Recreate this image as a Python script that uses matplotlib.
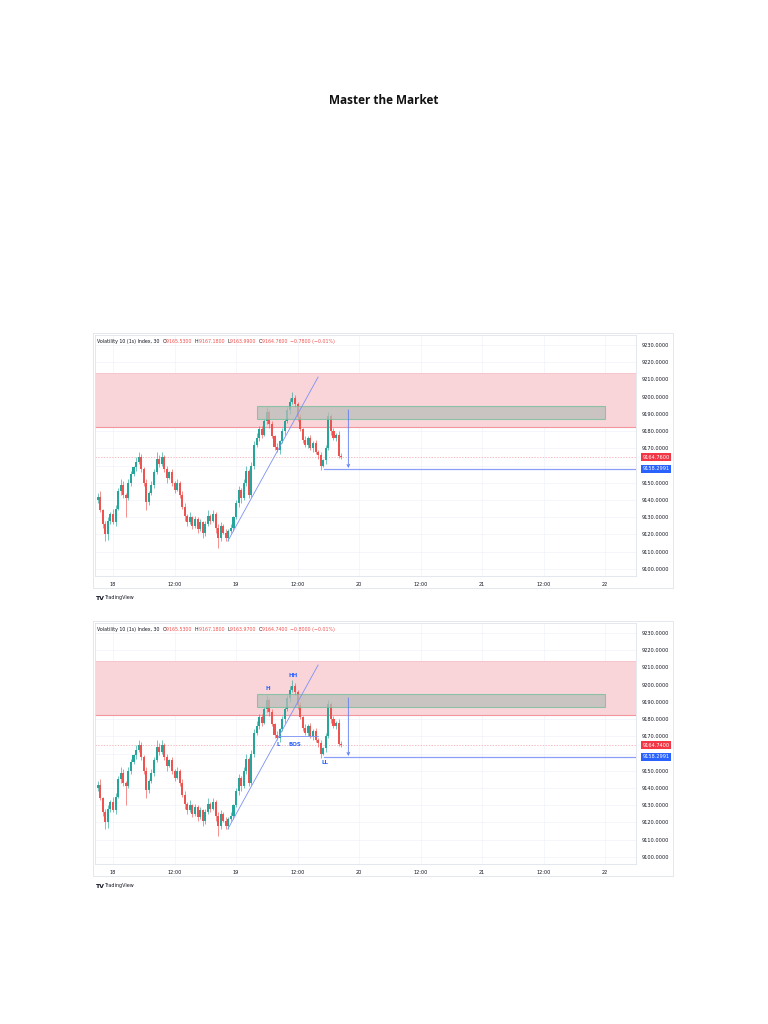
import numpy as np
import matplotlib.pyplot as plt
from matplotlib.patches import Rectangle
from matplotlib.transforms import blended_transform_factory

plt.rcParams['font.family'] = ['DejaVu Sans']

# 30 分钟K线, 横轴 = 相对 18日 00:00 的小时数
start_hour = -3.0
first_open = 9140.0
closes = [9142, 9134, 9126, 9120, 9128, 9132, 9127, 9135,
          9145, 9149, 9143, 9141, 9150, 9155, 9159, 9162,
          9165, 9158, 9150, 9139, 9144, 9149, 9156, 9164,
          9161, 9165, 9158, 9153, 9156, 9150, 9146, 9150,
          9143, 9136, 9131, 9127, 9130, 9125, 9129, 9123,
          9127, 9121, 9126, 9131, 9128, 9132, 9124, 9118,
          9125, 9121, 9118, 9122, 9124, 9130, 9138, 9146,
          9141, 9150, 9157, 9143, 9160, 9172, 9176, 9181,
          9178, 9186, 9191, 9184, 9177, 9171, 9169, 9174,
          9180, 9186, 9192, 9197, 9199, 9196, 9188, 9181,
          9175, 9172, 9176, 9170, 9173, 9168, 9166, 9160,
          9163, 9170, 9189, 9180, 9176, 9178, 9165.53, 9164.76]
wick_up = [2, 3, 1, 2, 2, 1, 3, 2,
           2, 3, 2, 1, 2, 2, 1, 3,
           3, 2, 1, 2, 1, 2, 2, 4,
           2, 3, 1, 2, 1, 2, 1, 2,
           1, 2, 2, 1, 3, 1, 2, 1,
           2, 1, 2, 3, 1, 2, 1, 2,
           2, 1, 2, 1, 2, 1, 2, 2,
           1, 2, 3, 1, 2, 2, 3, 2,
           2, 1, 3, 1, 2, 1, 2, 1,
           2, 1, 2, 2, 4, 2, 1, 2,
           1, 2, 1, 2, 1, 2, 1, 2,
           1, 2, 2, 1, 2, 1, 2, 1.65]
wick_dn = [2, 1, 2, 4, 3, 2, 1, 2,
           1, 2, 2, 11, 1, 2, 1, 2,
           1, 2, 2, 5, 2, 1, 2, 1,
           2, 1, 2, 3, 1, 2, 2, 1,
           2, 1, 3, 2, 1, 2, 1, 2,
           1, 3, 2, 1, 2, 1, 3, 6,
           2, 1, 2, 2, 1, 2, 1, 2,
           3, 1, 2, 2, 1, 2, 1, 2,
           2, 1, 2, 2, 1, 2, 1, 2,
           1, 2, 1, 2, 1, 2, 2, 1,
           2, 1, 2, 1, 2, 1, 2, 2.5,
           1, 2, 1, 2, 1, 2, 1, 0.77]

time_ticks = [0, 12, 24, 36, 48, 60, 72, 84, 96]
time_labels = ['18', '12:00', '19', '12:00', '20', '12:00', '21', '12:00', '22']
price_ticks = list(range(9100, 9231, 10))
hidden_tick = 9160   # 被价格标签盖住

# 两张截图的标题栏
headers = [
    ['9165.5300', '9167.1800', '9163.9900', '9164.7600', '\u22120.7800 (\u22120.01%)'],
    ['9165.5300', '9167.1800', '9163.9700', '9164.7400', '\u22120.8000 (\u22120.01%)'],
]
last_labels = ['9164.7600', '9164.7400']
line_price = 9158.2991

# 画线工具
supply_zone = (9182.4, 9213.7)
grey_box = (28.1, 96.0, 9187.1, 9194.6)
trend_line = ([22.4, 40.0], [9116.2, 9211.4])
arrow_pts = (45.9, 9192.3, 9158.6)
hline_start = 41.2
bos_line = ([32.2, 40.0], [9170.2, 9170.2])
structure_labels = ['H', 'HH', 'L', 'BOS', 'LL']
structure_x = [30.2, 35.1, 32.2, 35.4, 41.4]
structure_y = [9197.5, 9205.5, 9165.0, 9165.0, 9155.0]

W, H = 768, 1024
fig = plt.figure(figsize=(7.68, 10.24), dpi=100)
fig.patch.set_facecolor('white')

fig.text(0.5, 1 - 101 / H, 'Master the Market', ha='center', va='center',
         fontsize=8.5, fontweight='bold', family='Open Sans', color='#111111')

closes_a = np.array(closes, dtype=float)
opens_a = np.r_[first_open, closes_a[:-1]]
highs_a = np.maximum(opens_a, closes_a) + np.array(wick_up)
lows_a = np.minimum(opens_a, closes_a) - np.array(wick_dn)
xs = start_hour + 0.5 * np.arange(len(closes_a))

UP, DOWN = '#26a69a', '#ef5350'
BLUE = '#2962ff'


def draw_chart(y0, header, last_lbl, marks):
    # 截图外框
    fig.patches.append(Rectangle((93 / W, 1 - (588 + y0) / H), 580 / W, 255 / H,
                                 fill=False, ec='#e0e3eb', lw=0.6,
                                 transform=fig.transFigure))
    ax = fig.add_axes([95 / W, 1 - (576 + y0) / H, 541 / W, 241 / H])
    ax.set_xlim(-3.51, 102.0)
    ax.set_ylim(9095.9, 9235.8)
    for s in ax.spines.values():
        s.set_color('#e0e3eb')
        s.set_linewidth(0.6)
    ax.yaxis.tick_right()
    ax.set_xticks(time_ticks)
    ax.set_xticklabels(time_labels)
    ax.set_yticks(price_ticks)
    ax.set_yticklabels(['' if p == hidden_tick else '%.4f' % p for p in price_ticks])
    ax.tick_params(length=0, labelsize=3.6, colors='#131722', pad=4)
    ax.grid(True, color='#f0f3fa', lw=0.5)
    ax.set_axisbelow(True)

    # 供给区
    ax.axhspan(*supply_zone, facecolor='#f9d5da', edgecolor='none', zorder=1)
    ax.axhline(supply_zone[1], color='#f6c0c6', lw=0.5, zorder=1)
    ax.axhline(supply_zone[0], color='#f2959e', lw=0.8, zorder=1)

    # K线
    cols = np.where(closes_a >= opens_a, UP, DOWN)
    ax.vlines(xs, lows_a, highs_a, colors=cols, lw=0.45, zorder=3)
    body = np.maximum(np.abs(closes_a - opens_a), 0.4)
    ax.bar(xs, body, bottom=np.minimum(opens_a, closes_a), width=0.4,
           color=cols, lw=0, zorder=3)

    ax.axhline(float(last_lbl), color='#f5a3ab', lw=0.5, ls=(0, (2, 2)), zorder=2)

    x0, x1, p0, p1 = grey_box
    ax.add_patch(Rectangle((x0, p0), x1 - x0, p1 - p0, facecolor='#b9bdb9',
                           alpha=0.75, edgecolor='#6fbf98', lw=0.8, zorder=4))
    ax.plot(*trend_line, color='#7b90f6', lw=0.6, zorder=5)
    ax.annotate('', xy=(arrow_pts[0], arrow_pts[2]), xytext=(arrow_pts[0], arrow_pts[1]),
                arrowprops=dict(arrowstyle='->', color='#5b7cf7', lw=0.6,
                                shrinkA=0, shrinkB=0, mutation_scale=5), zorder=5)
    ax.plot([hline_start, 102.0], [line_price, line_price], color='#8aa0f8', lw=0.9, zorder=5)

    tr = blended_transform_factory(ax.transAxes, ax.transData)
    ax.text(1.012, float(last_lbl), last_lbl, transform=tr, fontsize=3.6, color='white',
            va='center', ha='left', zorder=6, clip_on=False,
            bbox=dict(boxstyle='square,pad=0.3', fc='#f23645', ec='none'))
    ax.text(1.012, line_price, '%.4f' % line_price, transform=tr, fontsize=3.6,
            color='white', va='center', ha='left', zorder=6, clip_on=False,
            bbox=dict(boxstyle='square,pad=0.3', fc=BLUE, ec='none'))

    # 标题栏
    parts = [('Volatility 10 (1s) Index, 30  ', '#131722'),
             ('O', '#131722'), (header[0] + '  ', DOWN),
             ('H', '#131722'), (header[1] + '  ', DOWN),
             ('L', '#131722'), (header[2] + '  ', DOWN),
             ('C', '#131722'), (header[3] + '  ', DOWN),
             (header[4], DOWN)]
    prev = None
    for txt, c in parts:
        if prev is None:
            prev = ax.annotate(txt, xy=(0.004, 0.975), xycoords='axes fraction',
                               fontsize=3.4, color=c, va='center', ha='left')
        else:
            prev = ax.annotate(txt, xy=(1, 0), xycoords=prev, fontsize=3.4,
                               color=c, va='bottom', ha='left')

    if marks:
        ax.plot(*bos_line, color='#7b90f6', lw=0.6, zorder=5)
        for t, x, y in zip(structure_labels, structure_x, structure_y):
            ax.text(x, y, t, color=BLUE, fontsize=4, fontweight='bold',
                    ha='center', va='center', zorder=6)

    fig.text(95 / W, 1 - (598 + y0) / H, 'TV', fontsize=4.5, fontweight='bold',
             color='#131722', va='center')
    fig.text(104 / W, 1 - (598 + y0) / H, 'TradingView', fontsize=3.5,
             color='#131722', va='center')


draw_chart(0, headers[0], last_labels[0], False)
draw_chart(288, headers[1], last_labels[1], True)

fig.savefig('out.png', dpi=100)
